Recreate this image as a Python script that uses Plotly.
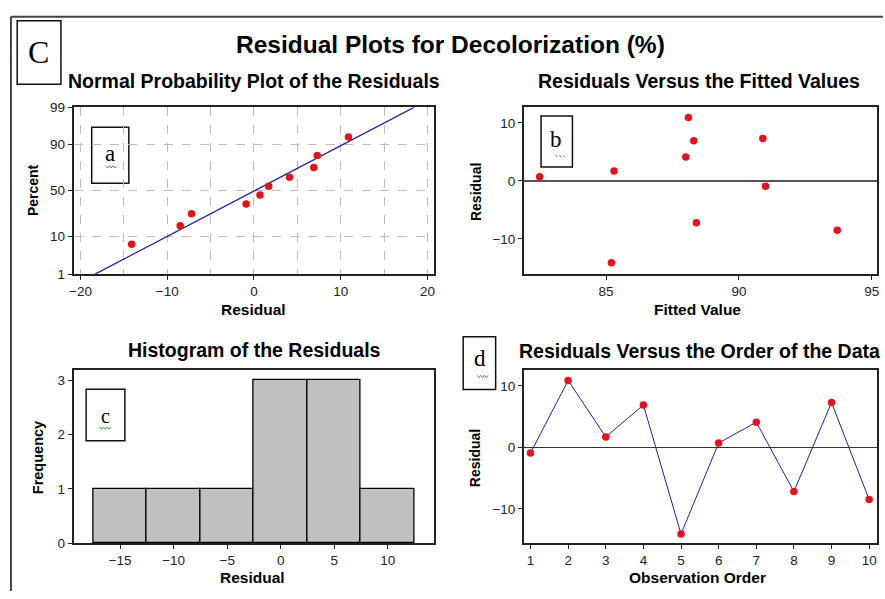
import math
import plotly.graph_objects as go

# ---------------- data ----------------
observation = list(range(1, 11))
fitted = [91.0, 88.1, 85.3, 88.3, 85.2, 82.5, 88.0, 88.4, 90.9, 93.7]
residual = [-0.9, 10.9, 1.7, 6.9, -14.1, 0.7, 4.1, -7.2, 7.3, -8.5]
prob_ticks = [1, 10, 50, 90, 99]
hist_ticks = [-15, -10, -5, 0, 5, 10]

W, H = 885, 599
def X(px): return px / W
def Y(py): return 1 - py / H

def norm_ppf(p):
    lo, hi = -10.0, 10.0
    for _ in range(200):
        mid = 0.5 * (lo + hi)
        if 0.5 * (1 + math.erf(mid / math.sqrt(2))) < p:
            lo = mid
        else:
            hi = mid
    return 0.5 * (lo + hi)

n = len(residual)
sorted_res = sorted(residual)
pct = [(i + 1 - 0.3) / (n + 0.4) for i in range(n)]
zvals = [norm_ppf(p) for p in pct]
mean = sum(residual) / n
sd = math.sqrt(sum((r - mean) ** 2 for r in residual) / (n - 1))
zlo, zhi = norm_ppf(0.01), norm_ppf(0.99)

RED = '#e4121b'
BLUE = '#1f1fa8'
FONT = 'Liberation Sans'

fig = go.Figure()
# a: normal probability plot
fig.add_trace(go.Scatter(x=[mean + sd * zlo, mean + sd * zhi], y=[zlo, zhi], mode='lines',
                         line=dict(color=BLUE, width=1.2), xaxis='x', yaxis='y'))
fig.add_trace(go.Scatter(x=sorted_res, y=zvals, mode='markers',
                         marker=dict(color=RED, size=7.5), xaxis='x', yaxis='y'))
# b: residuals vs fitted
fig.add_trace(go.Scatter(x=fitted, y=residual, mode='markers',
                         marker=dict(color=RED, size=7.5), xaxis='x2', yaxis='y2'))
# c: histogram
fig.add_trace(go.Histogram(x=residual, xbins=dict(start=-17.5, end=12.5, size=5),
                           marker=dict(color='#c0c0c0', line=dict(color='black', width=1.3)),
                           xaxis='x3', yaxis='y3'))
# d: residuals vs order
fig.add_trace(go.Scatter(x=observation, y=residual, mode='lines+markers',
                         line=dict(color=BLUE, width=1),
                         marker=dict(color=RED, size=7.5), xaxis='x4', yaxis='y4'))

tickfont = dict(family=FONT, size=13.5, color='#222')
base = dict(showline=True, linecolor='#222', linewidth=1.5, mirror=True,
            ticks='outside', ticklen=4, tickcolor='#222', tickfont=tickfont,
            zeroline=False, showgrid=False)

def ax(**kw):
    d = dict(base)
    d.update(kw)
    return d

fig.update_layout(
    width=W, height=H, margin=dict(l=0, r=0, t=0, b=0),
    paper_bgcolor='white', plot_bgcolor='white', showlegend=False, bargap=0,
    xaxis=ax(domain=[X(70), X(433.3)], range=[-20.8, 20.8], anchor='y',
             tickvals=[-20, -10, 0, 10, 20], showgrid=True, gridcolor='#bdbdbd', griddash='dash',
             minor=dict(dtick=5, tick0=-20, showgrid=True, gridcolor='#bdbdbd', griddash='dash', ticks='')),
    yaxis=ax(domain=[Y(274), Y(102.7)], range=[zlo, zhi], anchor='x',
             tickvals=[norm_ppf(p / 100) for p in prob_ticks], ticktext=[str(p) for p in prob_ticks],
             showgrid=True, gridcolor='#bdbdbd', griddash='dash'),
    xaxis2=ax(domain=[X(523.3), X(879)], range=[81.9, 95.2], anchor='y2', tickvals=[85, 90, 95]),
    yaxis2=ax(domain=[Y(274.3), Y(102.7)], range=[-16.1, 12.7], anchor='x2', tickvals=[-10, 0, 10],
              zeroline=True, zerolinecolor='#555', zerolinewidth=1.5),
    xaxis3=ax(domain=[X(70), X(433.3)], range=[-19.36, 14.36], anchor='y3', tickvals=hist_ticks),
    yaxis3=ax(domain=[Y(550), Y(372.3)], range=[0, 3.19], anchor='x3', tickvals=[0, 1, 2, 3]),
    xaxis4=ax(domain=[X(523.3), X(879)], range=[0.82, 10.21], anchor='y4', tickvals=observation),
    yaxis4=ax(domain=[Y(550), Y(372.3)], range=[-15.6, 12.6], anchor='x4', tickvals=[-10, 0, 10],
              zeroline=True, zerolinecolor='#333', zerolinewidth=1.2),
)

anns = []
def txt(t, px, py, size, bold=True, family=FONT, angle=0, xanchor='center', color='black'):
    s = '<b>%s</b>' % t if bold else t
    anns.append(dict(text=s, x=X(px), y=Y(py), xref='paper', yref='paper', showarrow=False,
                     xanchor=xanchor, yanchor='middle', textangle=angle,
                     font=dict(family=family, size=size, color=color)))

txt('Residual Plots for Decolorization (%)', 450, 38, 24.5)
txt('Normal Probability Plot of the Residuals', 252, 76, 19.5)
txt('Residuals Versus the Fitted Values', 700, 76, 19.5)
txt('Histogram of the Residuals', 252, 352, 19.5)
txt('Residuals Versus the Order of the Data', 516, 353, 19.5, xanchor='left')
txt('Residual', 251, 310, 15.5)
txt('Fitted Value', 698, 310, 15.5)
txt('Residual', 250, 585, 15.5)
txt('Observation Order', 698, 585, 15.5)
txt('Percent', 29, 188, 14, angle=-90)
txt('Residual', 475, 190, 14, angle=-90)
txt('Frequency', 35, 462, 14.5, angle=-90)
txt('Residual', 475, 463, 14, angle=-90)

SERIF = 'Liberation Serif'
txt('C', 35, 46, 32, bold=False, family=SERIF)
txt('a', 107, 150, 23, bold=False, family=SERIF)
txt('b', 556, 136, 23, bold=False, family=SERIF)
txt('c', 102, 420, 20, bold=False, family=SERIF)
txt('d', 479, 361, 23, bold=False, family=SERIF)

shapes = []
def rect(x0, y0, x1, y1):
    shapes.append(dict(type='rect', xref='paper', yref='paper', x0=X(x0), x1=X(x1), y0=Y(y1), y1=Y(y0),
                       line=dict(color='#111', width=1.5), fillcolor='white', layer='below'))

def squiggle(cx, cy, w=11, dash='solid'):
    pts = []
    steps = 6
    for i in range(steps + 1):
        px = cx - w / 2 + w * i / steps
        py = cy + (1.2 if i % 2 else -1.2)
        pts.append('%s%f,%f' % ('M' if i == 0 else 'L', X(px), Y(py)))
    shapes.append(dict(type='path', xref='paper', yref='paper', path=' '.join(pts),
                       line=dict(color='#3aa83a', width=1, dash=dash)))

# outer frame
shapes.append(dict(type='line', xref='paper', yref='paper', x0=X(7), x1=X(7), y0=Y(599), y1=Y(10),
                   line=dict(color='#444', width=2)))
shapes.append(dict(type='line', xref='paper', yref='paper', x0=X(7), x1=X(885), y0=Y(10), y1=Y(10),
                   line=dict(color='#444', width=2)))

rect(13.3, 14, 57.3, 79.3)
rect(88.3, 123.3, 125.7, 180.7)
rect(540.7, 111.7, 572.3, 164)
rect(82.7, 392, 121.7, 445)
rect(462.3, 338.3, 495, 392.3)
squiggle(108, 164)
squiggle(102, 432)
squiggle(482, 379)
squiggle(561, 153, dash='dot')

fig.update_layout(annotations=anns, shapes=shapes)
fig.write_html('out.html')
